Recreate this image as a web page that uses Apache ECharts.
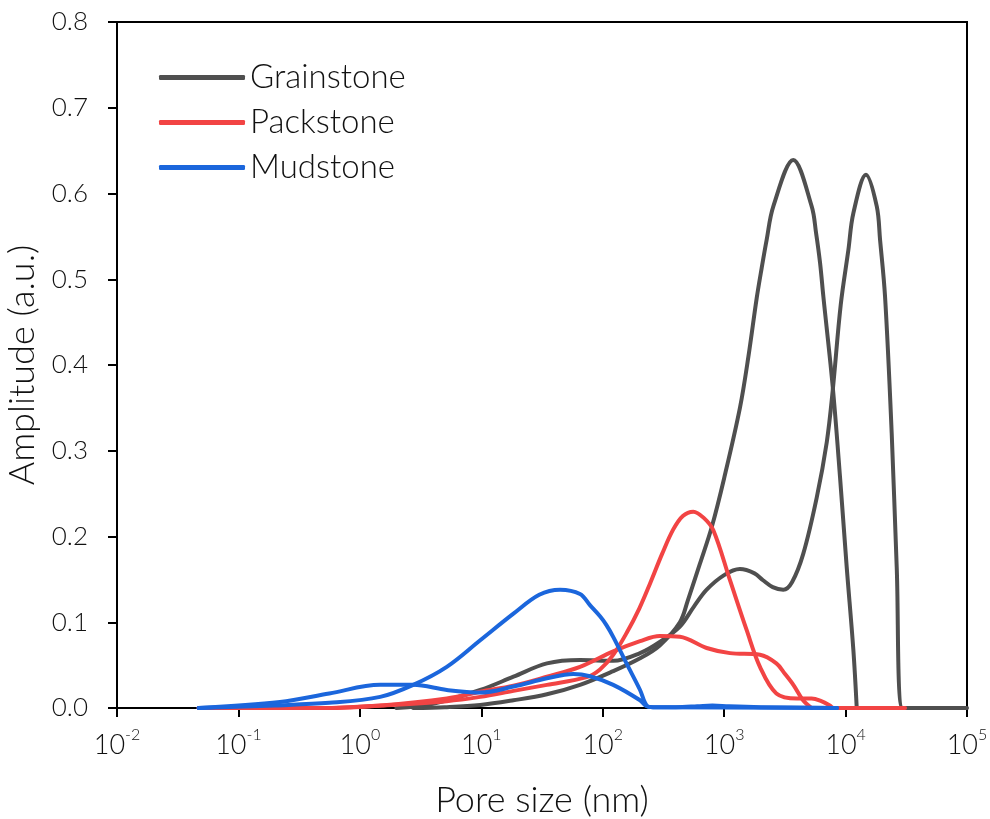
<!DOCTYPE html>
<html><head><meta charset="utf-8">
<script src="https://cdn.jsdelivr.net/npm/echarts@6/dist/echarts.min.js"></script>
<style>html,body{margin:0;padding:0;background:#fff}#c{width:990px;height:819px}</style>
</head><body><div id="c"></div>
<script>
// Pore size (nm) / amplitude (a.u.) pairs
const grainstoneA = [[2.75,0],[5,0.001],[9.8,0.0035],[18.4,0.009],[34.7,0.016],[65,0.027],[122,0.043],[203,0.058],[295,0.073],[432,0.1],[501,0.125],[631,0.168],[794,0.212],[1000,0.268],[1349,0.35],[1585,0.41],[1854,0.478],[2037,0.513],[2239,0.546],[2541,0.585],[3707,0.639],[5260,0.585],[5715,0.554],[6166,0.519],[6561,0.48],[7834,0.375],[8995,0.27],[10209,0.165],[11588,0.068],[12359,0]];
const grainstoneB = [[2,0],[4,0.005],[9.8,0.021],[18.4,0.0365],[34.7,0.052],[65,0.056],[122,0.055],[203,0.064],[295,0.077],[432,0.095],[562,0.118],[718,0.138],[1000,0.155],[1349,0.162],[1778,0.157],[2089,0.149],[2512,0.141],[3069,0.138],[3631,0.147],[4487,0.18],[5781,0.245],[7000,0.31],[7834,0.37],[9120,0.47],[10544,0.534],[11588,0.577],[14723,0.622],[18072,0.585],[19231,0.546],[21135,0.48],[23988,0.32],[26363,0.165],[29512,0],[40000,0],[100000,0]];
const packstoneA = [[0.047,0],[0.5,0],[1.5,0.003],[5.2,0.008],[9.8,0.013],[18.4,0.02],[34.7,0.027],[73.8,0.036],[95,0.045],[122,0.062],[158,0.088],[200,0.116],[245,0.145],[309,0.18],[380,0.208],[457,0.224],[557,0.229],[676,0.222],[813,0.2076],[1117,0.149],[1531,0.091],[1972,0.048],[2692,0.017],[3981,0.011],[5248,0.011],[6310,0.008],[7413,0.003],[7943,0],[12000,0],[30903,0]];
const packstoneB = [[0.047,0],[0.5,0],[1.5,0.003],[5.2,0.011],[9.8,0.019],[18.4,0.026],[34.7,0.0365],[65,0.048],[122,0.066],[203,0.078],[295,0.084],[432,0.083],[718,0.07],[1117,0.064],[1972,0.062],[2692,0.052],[3162,0.04],[3715,0.027],[4467,0.009],[5248,0]];
const mudstoneA = [[0.047,0],[0.2,0.003],[0.56,0.006],[1.47,0.013],[2.75,0.027],[5.2,0.048],[9.8,0.079],[18.4,0.11],[30,0.132],[44.5,0.138],[65,0.133],[78.5,0.12],[95,0.107],[107,0.097],[122,0.083],[157,0.052],[203,0.021],[230,0.003],[260,0.001],[400,0.001],[600,0.002],[800,0.003],[1100,0.002],[2000,0.001],[8500,0]];
const mudstoneB = [[0.047,0],[0.22,0.007],[0.56,0.017],[1.47,0.027],[2.75,0.027],[5.2,0.021],[9.8,0.018],[18.4,0.025],[34.7,0.0346],[57.3,0.0397],[78.5,0.037],[122,0.027],[203,0.009],[230,0.002],[260,0.001],[8500,0]];
const seriesNames = ['Grainstone','Packstone','Mudstone'];

const colors = {Grainstone:'#4f4f4f', Packstone:'#f24444', Mudstone:'#1b66dc'};
const font = 'Lato, "Open Sans", sans-serif';
function mk(name, data){
  return {name, type:'line', data, smooth:0.35, symbol:'none', showSymbol:false,
    lineStyle:{color:colors[name], width:4, cap:'round', join:'round'}, itemStyle:{color:colors[name]}, z:2};
}
const chart = echarts.init(document.getElementById('c'), null, {renderer:'canvas'});
chart.setOption({
  animation:false,
  backgroundColor:'#fff',
  grid:{left:117, right:23, top:22, bottom:111, outerBoundsMode:'none', containLabel:false, show:true, borderColor:'#000', borderWidth:2},
  legend:{data:seriesNames, orient:'vertical', left:154, top:56, itemWidth:86, itemHeight:5, itemGap:12,
    icon:'roundRect', textStyle:{fontFamily:font, fontWeight:300, fontSize:33, lineHeight:33, color:'#111', padding:[0,0,0,0]}},
  xAxis:{type:'log', logBase:10, min:0.01, max:100000, name:'Pore size (nm)', nameLocation:'middle', nameGap:74,
    nameTextStyle:{fontFamily:font, fontWeight:300, fontSize:36, color:'#111'},
    axisLine:{lineStyle:{color:'#000', width:2}}, axisTick:{show:true, length:9, lineStyle:{color:'#000', width:2}},
    minorTick:{show:false}, splitLine:{show:false},
    axisLabel:{margin:19, color:'#111', fontFamily:font,
      formatter:function(v){const e=Math.round(Math.log10(v)); return '{b|10}{s|'+e+'}';},
      rich:{b:{fontSize:27, fontWeight:300, fontFamily:font, color:'#111', verticalAlign:'bottom', lineHeight:32},
            s:{fontSize:16, fontWeight:300, fontFamily:font, color:'#111', verticalAlign:'top', lineHeight:16}}}},
  yAxis:{type:'value', min:0, max:0.8, interval:0.1, name:'Amplitude (a.u.)', nameLocation:'middle', nameGap:70,
    nameTextStyle:{fontFamily:font, fontWeight:300, fontSize:36, color:'#111'},
    axisLine:{show:true, lineStyle:{color:'#000', width:2}}, axisTick:{show:true, length:9, lineStyle:{color:'#000', width:2}},
    splitLine:{show:false},
    axisLabel:{margin:29, color:'#111', fontFamily:font, fontWeight:300, fontSize:26, formatter:v=>v.toFixed(1)}},
  series:[
    mk('Grainstone', grainstoneA), mk('Grainstone', grainstoneB),
    mk('Packstone', packstoneA), mk('Packstone', packstoneB),
    mk('Mudstone', mudstoneA), mk('Mudstone', mudstoneB)
  ]
});
</script></body></html>
